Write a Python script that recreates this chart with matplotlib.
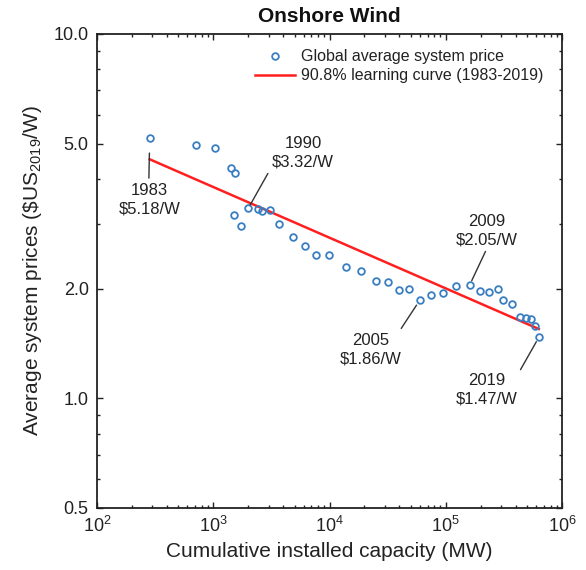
import matplotlib
matplotlib.use("Agg")
import matplotlib.pyplot as plt
from matplotlib.ticker import FixedLocator, FixedFormatter, LogLocator, NullFormatter

plt.rcParams['font.family'] = ['Liberation Sans', 'DejaVu Sans']
plt.rcParams['mathtext.fontset'] = 'custom'
plt.rcParams['mathtext.rm'] = 'Liberation Sans'
plt.rcParams['mathtext.it'] = 'Liberation Sans:italic'
plt.rcParams['mathtext.bf'] = 'Liberation Sans:bold'

# ---- data ----
years = list(range(1983, 2020))
capacity_mw = [284, 708, 1031, 1427, 1503, 1532, 1740, 1998,
               2417, 2637, 3048, 3643, 4873, 6216, 7727, 9864,
               14000, 18480, 24880, 31730, 39780, 48480, 59830,
               75400, 95100, 122000, 161000, 199000, 237800, 281600,
               312000, 367800, 433500, 490000, 536000, 583000, 631600]
price_usd_w = [5.18, 4.95, 4.85, 4.30, 3.18, 4.15, 2.98, 3.32,
               3.30, 3.27, 3.28, 3.01, 2.77, 2.62, 2.48, 2.47,
               2.29, 2.24, 2.10, 2.08, 1.98, 1.99, 1.86,
               1.92, 1.94, 2.03, 2.05, 1.97, 1.96, 2.00,
               1.86, 1.81, 1.67, 1.66, 1.65, 1.58, 1.47]

curve_x = [284, 631600]
curve_y = [4.53, 1.55]

annot_years = [1983, 1990, 2005, 2009, 2019]
annot_labels = ['1983\n$5.18/W', '1990\n$3.32/W', '2005\n$1.86/W',
                '2009\n$2.05/W', '2019\n$1.47/W']

yticks = [0.5, 1.0, 2.0, 5.0, 10.0]
ytick_labels = ['0.5', '1.0', '2.0', '5.0', '10.0']
yminor = [0.6, 0.7, 0.8, 0.9, 3, 4, 6, 7, 8, 9]

# ---- layout / style ----
# per-annotation offsets in pixels: (leader end dx, dy), gap at point, text center (dx, dy)
PX = 0.72
annot_style = {
    1983: ((-0.8, -40), 15, (0, -62)),
    1990: ((19.7, 35), 4, (55, 55.7)),
    2005: ((-18.6, -28.3), 6, (-49.3, -50)),
    2009: ((15.7, 33.3), 4.5, (17.4, 54.3)),
    2019: ((-18.3, -32.3), 5, (-51.6, -52.8)),
}

blue = '#3a7ec2'
red = '#ff1f1f'
txt = '#222222'

fig = plt.figure(figsize=(5.86, 5.70), dpi=100)
ax = fig.add_axes([97/586, 1-508/570, (562-97)/586, (508-34)/570])

ax.set_xscale('log')
ax.set_yscale('log')
ax.set_xlim(1e2, 1e6)
ax.set_ylim(0.5, 10.0)

ax.plot(capacity_mw, price_usd_w, linestyle='none', marker='o', ms=4.8,
        mfc='none', mec=blue, mew=1.3, label='Global average system price', zorder=3)
ax.plot(curve_x, curve_y, color=red, lw=1.8,
        label='90.8% learning curve (1983-2019)', zorder=2)

for yr, lab in zip(annot_years, annot_labels):
    i = years.index(yr)
    px, py = capacity_mw[i], price_usd_w[i]
    (ldx, ldy), gap, (tdx, tdy) = annot_style[yr]
    ax.annotate('', xy=(px, py), xytext=(ldx*PX, ldy*PX), textcoords='offset points',
                arrowprops=dict(arrowstyle='-', color='#333333', lw=1.0,
                                shrinkA=0, shrinkB=gap*PX))
    ax.annotate(lab.replace('$', r'\$'), xy=(px, py), xytext=(tdx*PX, tdy*PX),
                textcoords='offset points', ha='center', va='center',
                fontsize=12, color=txt, linespacing=1.28)

ax.yaxis.set_major_locator(FixedLocator(yticks))
ax.yaxis.set_major_formatter(FixedFormatter(ytick_labels))
ax.yaxis.set_minor_locator(FixedLocator(yminor))
ax.yaxis.set_minor_formatter(NullFormatter())
ax.xaxis.set_major_locator(LogLocator(base=10, numticks=10))
ax.xaxis.set_minor_locator(LogLocator(base=10, subs=range(2, 10), numticks=20))
ax.xaxis.set_minor_formatter(NullFormatter())

ax.tick_params(which='both', direction='in', top=True, right=True, colors='#222222',
               labelcolor=txt, labelsize=13)
ax.tick_params(which='major', length=4.5, width=1.0, pad=6)
ax.tick_params(which='minor', length=2.5, width=1.0)
for s in ax.spines.values():
    s.set_linewidth(1.3)
    s.set_color('#222222')

ax.set_title('Onshore Wind', fontsize=15, fontweight='bold', pad=9, color='#111111')
ax.set_xlabel('Cumulative installed capacity (MW)', fontsize=15, color=txt, labelpad=4)
ax.set_ylabel(r'Average system prices (\$US$_{2019}$/W)', fontsize=15, color=txt, labelpad=7)

leg = ax.legend(loc='upper right', bbox_to_anchor=(0.959, 0.968), frameon=False,
                fontsize=11.5, handlelength=2.5, handletextpad=0.35, labelspacing=0.25,
                borderpad=0, borderaxespad=0)
for t in leg.get_texts():
    t.set_color(txt)

fig.savefig('out.png', dpi=100)
